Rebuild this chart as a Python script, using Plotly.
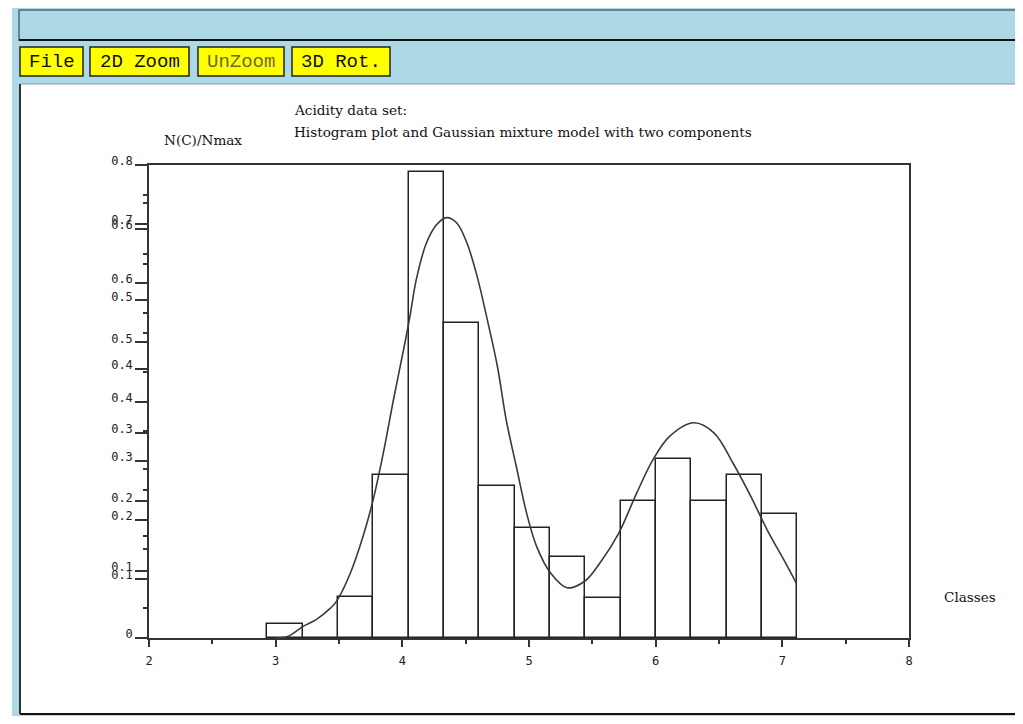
import plotly.graph_objects as go

# ---------------- data ----------------
bin_edges = [2.934, 3.213, 3.492, 3.771, 4.050, 4.329, 4.608, 4.887,
             5.166, 5.445, 5.724, 6.003, 6.282, 6.561, 6.840, 7.119]
bar_heights = [0.024, 0.0, 0.069, 0.276, 0.789, 0.533, 0.257, 0.186,
               0.137, 0.068, 0.231, 0.302, 0.231, 0.276, 0.209]

curve_x = [3.01, 3.10, 3.22, 3.32, 3.43, 3.48, 3.59, 3.69, 3.77, 3.85, 3.93,
           4.01, 4.06, 4.11, 4.19, 4.27, 4.35, 4.43, 4.51, 4.59, 4.67, 4.75,
           4.82, 4.90, 4.98, 5.06, 5.17, 5.30, 5.44, 5.56, 5.71, 5.85, 5.98,
           6.11, 6.30, 6.46, 6.61, 6.75, 6.88, 7.01, 7.11]
curve_y = [0.0, 0.003, 0.02, 0.031, 0.05, 0.062, 0.110, 0.172, 0.234, 0.313,
           0.403, 0.488, 0.544, 0.606, 0.668, 0.699, 0.711, 0.702, 0.668,
           0.612, 0.539, 0.460, 0.369, 0.290, 0.212, 0.155, 0.110, 0.085,
           0.096, 0.127, 0.178, 0.245, 0.302, 0.341, 0.364, 0.347, 0.296,
           0.240, 0.183, 0.133, 0.093]

x_tick_vals = [2, 3, 4, 5, 6, 7, 8]
x_tick_text = ["2", "3", "4", "5", "6", "7", "8"]
x_minor_vals = [2.5, 3.5, 4.5, 5.5, 6.5, 7.5]

y_tick_vals = [0, 0.1, 0.2, 0.3, 0.4, 0.5, 0.6, 0.7, 0.8,
               0.114, 0.231, 0.347, 0.455, 0.571, 0.692]
y_tick_text = ["0", "0.1", "0.2", "0.3", "0.4", "0.5", "0.6", "0.7", "0.8",
               "0.1", "0.2", "0.3", "0.4", "0.5", "0.6"]
y_minor_vals = [0.05, 0.15, 0.25, 0.35, 0.45, 0.55, 0.65, 0.75,
                0.172, 0.285, 0.516, 0.632, 0.736]

title_lines = ["Acidity data set:",
               "Histogram plot and Gaussian mixture model with two components"]
y_label = "N(C)/Nmax"
x_label = "Classes"
buttons = ["File", "2D Zoom", "UnZoom", "3D Rot."]

# ---------------- layout helpers (page pixel -> paper) ----------------
OX, OY = 8, 8          # default page body margin
W, H = 1007, 708       # fits the 1023x724 window without overflow


def px(x):
    return (x - OX) / W


def py(y):
    return 1 - (y - OY) / H


bar_x = [(a + b) / 2 for a, b in zip(bin_edges[:-1], bin_edges[1:])]
bar_w = [b - a for a, b in zip(bin_edges[:-1], bin_edges[1:])]

fig = go.Figure()
fig.add_trace(go.Bar(x=bar_x, y=bar_heights, width=bar_w,
                     marker=dict(color="white", line=dict(color="#222", width=1.5)),
                     hoverinfo="skip", showlegend=False))
fig.add_trace(go.Scatter(x=curve_x, y=curve_y, mode="lines",
                         line=dict(color="#3a3a3a", width=1.6, shape="spline"),
                         hoverinfo="skip", showlegend=False))

LB = "#ADD8E6"
shapes = []
# light blue window background
shapes.append(dict(type="rect", xref="paper", yref="paper", layer="below",
                   x0=px(12), x1=px(1030), y0=py(7), y1=py(730),
                   fillcolor=LB, line=dict(width=0)))
# top bar
shapes.append(dict(type="rect", xref="paper", yref="paper", layer="below",
                   x0=px(19), x1=px(1030), y0=py(10), y1=py(40),
                   fillcolor=LB, line=dict(color="#4f6870", width=1.5)))
shapes.append(dict(type="line", xref="paper", yref="paper", layer="below",
                   x0=px(19), x1=px(1030), y0=py(40), y1=py(40),
                   line=dict(color="#111", width=2)))
# white plot window
shapes.append(dict(type="rect", xref="paper", yref="paper", layer="below",
                   x0=px(20), x1=px(1030), y0=py(84), y1=py(714),
                   fillcolor="white", line=dict(width=0)))
shapes.append(dict(type="line", xref="paper", yref="paper", layer="below",
                   x0=px(20), x1=px(1030), y0=py(84), y1=py(84),
                   line=dict(color="#8a9aa0", width=1)))
shapes.append(dict(type="line", xref="paper", yref="paper", layer="below",
                   x0=px(20), x1=px(20), y0=py(84), y1=py(714),
                   line=dict(color="#333", width=2)))
shapes.append(dict(type="line", xref="paper", yref="paper", layer="below",
                   x0=px(20), x1=px(1030), y0=py(714), y1=py(714),
                   line=dict(color="#111", width=2)))

annotations = []
btn_x = [(20, 83), (90, 189), (198, 284), (292, 390)]
btn_colors = ["#111", "#111", "#6a6a35", "#111"]
for (a, b), label, col in zip(btn_x, buttons, btn_colors):
    shapes.append(dict(type="rect", xref="paper", yref="paper", layer="below",
                       x0=px(a), x1=px(b), y0=py(47), y1=py(76),
                       fillcolor="#FFFF00", line=dict(color="#222", width=1.5)))
    annotations.append(dict(xref="paper", yref="paper", x=px((a + b) / 2), y=py(62),
                            text=label, showarrow=False, xanchor="center", yanchor="middle",
                            font=dict(family="Liberation Mono", size=19, color=col)))

txt_font = dict(family="DejaVu Serif", size=13.6, color="#111")
annotations.append(dict(xref="paper", yref="paper", x=px(292), y=py(110), text=title_lines[0],
                        showarrow=False, xanchor="left", yanchor="middle", font=txt_font))
annotations.append(dict(xref="paper", yref="paper", x=px(292), y=py(132), text=title_lines[1],
                        showarrow=False, xanchor="left", yanchor="middle", font=txt_font))
annotations.append(dict(xref="paper", yref="paper", x=px(162), y=py(140), text=y_label,
                        showarrow=False, xanchor="left", yanchor="middle", font=txt_font))
annotations.append(dict(xref="paper", yref="paper", x=px(942), y=py(597), text=x_label,
                        showarrow=False, xanchor="left", yanchor="middle", font=txt_font))

tick_font = dict(family="DejaVu Sans Mono", size=12, color="#222")

fig.update_layout(
    width=W, height=H, autosize=False,
    margin=dict(l=0, r=0, t=0, b=0, pad=0, autoexpand=False),
    paper_bgcolor="white", plot_bgcolor="white",
    shapes=shapes, annotations=annotations,
    bargap=0,
    xaxis=dict(domain=[px(149), px(909)], range=[2, 8], automargin=False,
               showgrid=False, zeroline=False,
               showline=True, linecolor="#333", linewidth=1.5, mirror=True,
               tickmode="array", tickvals=x_tick_vals, ticktext=x_tick_text,
               ticks="outside", ticklen=7, tickwidth=1.5, tickcolor="#333",
               ticklabelstandoff=4,
               minor=dict(tickmode="array", tickvals=x_minor_vals, ticks="outside",
                          ticklen=4, tickwidth=1.5, tickcolor="#333"),
               tickfont=tick_font),
    yaxis=dict(domain=[py(638), py(165)], range=[0, 0.8], automargin=False,
               showgrid=False, zeroline=False,
               showline=True, linecolor="#333", linewidth=1.5, mirror=True,
               tickmode="array", tickvals=y_tick_vals, ticktext=y_tick_text,
               ticks="outside", ticklen=12, tickwidth=1.5, tickcolor="#333",
               ticklabelshift=-4,
               minor=dict(tickmode="array", tickvals=y_minor_vals, ticks="outside",
                          ticklen=4, tickwidth=1.5, tickcolor="#333"),
               tickfont=tick_font),
)

fig.write_html("out.html", config={"displayModeBar": False})
